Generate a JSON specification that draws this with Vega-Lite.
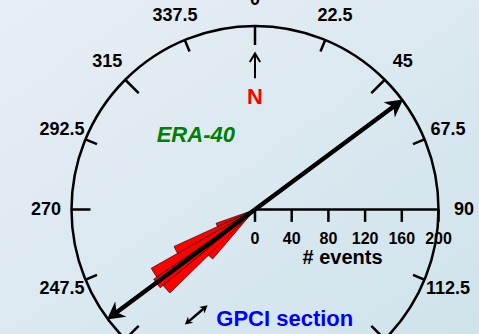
{
  "$schema": "https://vega.github.io/schema/vega-lite/v6.json",
  "width": 479,
  "height": 334,
  "padding": 0,
  "autosize": {"type": "none"},
  "background": "#dbe8f0",
  "config": {
    "view": {"stroke": null, "fill": {"gradient": "linear", "x1": 0, "y1": 0, "x2": 1, "y2": 1, "stops": [{"offset": 0, "color": "#e8eef5"}, {"offset": 1, "color": "#cfe3eb"}]}},
    "text": {"font": "Liberation Sans", "fontWeight": "bold"}
  },
  "layer": [
    {
      "data": {"values": [
        {"a0": 220.5, "a1": 225.5, "n": 71},
        {"a0": 225.5, "a1": 230.5, "n": 130},
        {"a0": 230.5, "a1": 235.5, "n": 134},
        {"a0": 235.5, "a1": 240.5, "n": 130},
        {"a0": 240.5, "a1": 245.5, "n": 97},
        {"a0": 245.5, "a1": 250.5, "n": 45}
      ]},
      "mark": {"type": "arc", "fill": "#ff0000", "stroke": "#000000", "strokeWidth": 0.6},
      "encoding": {
        "x": {"datum": 0, "type": "quantitative", "scale": {"domain": [-277.93, 244.14], "nice": false, "zero": false}, "axis": null},
        "y": {"datum": 0, "type": "quantitative", "scale": {"domain": [-135.69, 228.34], "nice": false, "zero": false}, "axis": null},
        "theta": {"field": "a0", "type": "quantitative", "scale": {"domain": [0, 360], "range": [0, 6.283185307179586]}},
        "theta2": {"field": "a1"},
        "radius": {"field": "n", "type": "quantitative", "scale": {"type": "linear", "domain": [0, 200], "range": [0, 183.5], "zero": true, "nice": false}}
      }
    },
    {
      "data": {"values": [{"ang": 53.4, "x": 152.2, "y": 113.0}, {"ang": 233.4, "x": -152.2, "y": -113.0}]},
      "layer": [
        {
          "mark": {"type": "arc", "filled": false, "stroke": "#000000", "strokeWidth": 4.5},
          "encoding": {
            "x": {"datum": 0, "type": "quantitative", "scale": {"domain": [-277.93, 244.14], "nice": false, "zero": false}, "axis": null},
            "y": {"datum": 0, "type": "quantitative", "scale": {"domain": [-135.69, 228.34], "nice": false, "zero": false}, "axis": null},
            "theta": {"field": "ang", "type": "quantitative", "scale": {"domain": [0, 360], "range": [0, 6.283185307179586]}},
            "theta2": {"field": "ang"},
            "radius": {"datum": 189.6, "type": "quantitative", "scale": {"type": "linear", "domain": [0, 200], "range": [0, 183.5], "zero": true, "nice": false}},
            "radius2": {"datum": 0}
          }
        },
        {
          "mark": {"type": "point", "shape": "M0,-1L0.9,0.65L0,0.15L-0.9,0.65Z", "filled": true, "color": "#000000", "opacity": 1, "size": 440, "strokeWidth": 0},
          "encoding": {
            "x": {"field": "x", "type": "quantitative", "scale": {"domain": [-277.93, 244.14], "nice": false, "zero": false}, "axis": null},
            "y": {"field": "y", "type": "quantitative", "scale": {"domain": [-135.69, 228.34], "nice": false, "zero": false}, "axis": null},
            "angle": {"field": "ang", "type": "quantitative", "scale": null}
          }
        }
      ]
    },
    {
      "data": {"values": [{"c": "circle"}]},
      "mark": {"type": "arc", "filled": false, "stroke": "#000000", "strokeWidth": 2.5},
      "encoding": {
        "x": {"datum": 0, "type": "quantitative", "scale": {"domain": [-277.93, 244.14], "nice": false, "zero": false}, "axis": null},
        "y": {"datum": 0, "type": "quantitative", "scale": {"domain": [-135.69, 228.34], "nice": false, "zero": false}, "axis": null},
        "theta": {"datum": 0, "type": "quantitative", "scale": {"domain": [0, 360], "range": [0, 6.283185307179586]}},
        "theta2": {"datum": 360},
        "radius": {"datum": 200, "type": "quantitative", "scale": {"type": "linear", "domain": [0, 200], "range": [0, 183.5], "zero": true, "nice": false}}
      }
    },
    {
      "data": {"values": [{"b": 0}, {"b": 45}, {"b": 135}, {"b": 180}, {"b": 225}, {"b": 270}, {"b": 315}]},
      "mark": {"type": "arc", "filled": false, "stroke": "#000000", "strokeWidth": 2.5},
      "encoding": {
        "x": {"datum": 0, "type": "quantitative", "scale": {"domain": [-277.93, 244.14], "nice": false, "zero": false}, "axis": null},
        "y": {"datum": 0, "type": "quantitative", "scale": {"domain": [-135.69, 228.34], "nice": false, "zero": false}, "axis": null},
        "theta": {"field": "b", "type": "quantitative", "scale": {"domain": [0, 360], "range": [0, 6.283185307179586]}},
        "theta2": {"field": "b"},
        "radius": {"datum": 200, "type": "quantitative", "scale": {"type": "linear", "domain": [0, 200], "range": [0, 183.5], "zero": true, "nice": false}},
        "radius2": {"datum": 179.3}
      }
    },
    {
      "data": {"values": [{"b": 22.5}, {"b": 67.5}, {"b": 112.5}, {"b": 157.5}, {"b": 202.5}, {"b": 247.5}, {"b": 292.5}, {"b": 337.5}]},
      "mark": {"type": "arc", "filled": false, "stroke": "#000000", "strokeWidth": 2.5},
      "encoding": {
        "x": {"datum": 0, "type": "quantitative", "scale": {"domain": [-277.93, 244.14], "nice": false, "zero": false}, "axis": null},
        "y": {"datum": 0, "type": "quantitative", "scale": {"domain": [-135.69, 228.34], "nice": false, "zero": false}, "axis": null},
        "theta": {"field": "b", "type": "quantitative", "scale": {"domain": [0, 360], "range": [0, 6.283185307179586]}},
        "theta2": {"field": "b"},
        "radius": {"datum": 200, "type": "quantitative", "scale": {"type": "linear", "domain": [0, 200], "range": [0, 183.5], "zero": true, "nice": false}},
        "radius2": {"datum": 186.4}
      }
    },
    {
      "data": {"values": [
        {"b": 0, "t": "0"}, {"b": 22.5, "t": "22.5"}, {"b": 45, "t": "45"}, {"b": 67.5, "t": "67.5"},
        {"b": 90, "t": "90"}, {"b": 112.5, "t": "112.5"}, {"b": 247.5, "t": "247.5"},
        {"b": 270, "t": "270"}, {"b": 292.5, "t": "292.5"}, {"b": 315, "t": "315"}, {"b": 337.5, "t": "337.5"}
      ]},
      "mark": {"type": "text", "fontSize": 18, "align": "center", "baseline": "middle", "color": "#000000"},
      "encoding": {
        "x": {"datum": 0, "type": "quantitative", "scale": {"domain": [-277.93, 244.14], "nice": false, "zero": false}, "axis": null},
        "y": {"datum": 0, "type": "quantitative", "scale": {"domain": [-135.69, 228.34], "nice": false, "zero": false}, "axis": null},
        "theta": {"field": "b", "type": "quantitative", "scale": {"domain": [0, 360], "range": [0, 6.283185307179586]}},
        "radius": {"datum": 227.8, "type": "quantitative", "scale": {"type": "linear", "domain": [0, 200], "range": [0, 183.5], "zero": true, "nice": false}},
        "text": {"field": "t"}
      }
    },
    {
      "data": {"values": [{"v": 0}, {"v": 40}, {"v": 80}, {"v": 120}, {"v": 160}, {"v": 200}]},
      "layer": [
        {
          "mark": {"type": "rule", "color": "#000000", "strokeWidth": 2.5},
          "encoding": {
            "x": {"field": "v", "type": "quantitative", "scale": {"domain": [-277.93, 244.14], "nice": false, "zero": false}, "axis": null},
            "y": {"datum": 0, "type": "quantitative", "scale": {"domain": [-135.69, 228.34], "nice": false, "zero": false}, "axis": null},
            "y2": {"datum": -13.5}
          }
        },
        {
          "mark": {"type": "text", "fontSize": 16, "align": "center", "baseline": "alphabetic", "color": "#000000"},
          "encoding": {
            "x": {"field": "v", "type": "quantitative", "scale": {"domain": [-277.93, 244.14], "nice": false, "zero": false}, "axis": null},
            "y": {"datum": -37.06, "type": "quantitative", "scale": {"domain": [-135.69, 228.34], "nice": false, "zero": false}, "axis": null},
            "text": {"field": "v", "type": "quantitative"}
          }
        }
      ]
    },
    {
      "data": {"values": [{"x0": 0, "x1": 200}]},
      "mark": {"type": "rule", "color": "#000000", "strokeWidth": 2.7},
      "encoding": {
        "x": {"field": "x0", "type": "quantitative", "scale": {"domain": [-277.93, 244.14], "nice": false, "zero": false}, "axis": null},
        "x2": {"field": "x1"},
        "y": {"datum": 0, "type": "quantitative", "scale": {"domain": [-135.69, 228.34], "nice": false, "zero": false}, "axis": null}
      }
    },
    {
      "data": {"values": [{"x": 0, "y": 143.0, "y2": 170.0}]},
      "layer": [
        {
          "mark": {"type": "rule", "color": "#000000", "strokeWidth": 2},
          "encoding": {
            "x": {"field": "x", "type": "quantitative", "scale": {"domain": [-277.93, 244.14], "nice": false, "zero": false}, "axis": null},
            "y": {"field": "y", "type": "quantitative", "scale": {"domain": [-135.69, 228.34], "nice": false, "zero": false}, "axis": null},
            "y2": {"field": "y2"}
          }
        },
        {
          "mark": {"type": "point", "shape": "M-0.55,0.9L0,0L0.55,0.9", "filled": false, "stroke": "#000000", "strokeWidth": 2, "opacity": 1, "size": 354},
          "encoding": {
            "x": {"field": "x", "type": "quantitative", "scale": {"domain": [-277.93, 244.14], "nice": false, "zero": false}, "axis": null},
            "y": {"field": "y2", "type": "quantitative", "scale": {"domain": [-135.69, 228.34], "nice": false, "zero": false}, "axis": null}
          }
        }
      ]
    },
    {
      "data": {"values": [{"x": -72.6, "y": -122.2, "x2": -55.5, "y2": -107.7}]},
      "mark": {"type": "rule", "color": "#000000", "strokeWidth": 2.5},
      "encoding": {
        "x": {"field": "x", "type": "quantitative", "scale": {"domain": [-277.93, 244.14], "nice": false, "zero": false}, "axis": null},
        "y": {"field": "y", "type": "quantitative", "scale": {"domain": [-135.69, 228.34], "nice": false, "zero": false}, "axis": null},
        "x2": {"field": "x2"},
        "y2": {"field": "y2"}
      }
    },
    {
      "data": {"values": [{"x": -55.5, "y": -107.7, "ang": 49.8}, {"x": -72.6, "y": -122.2, "ang": 229.8}]},
      "mark": {"type": "point", "shape": "M0,-1L0.9,0.65L0,0.15L-0.9,0.65Z", "filled": true, "color": "#000000", "opacity": 1, "size": 85, "strokeWidth": 0},
      "encoding": {
        "x": {"field": "x", "type": "quantitative", "scale": {"domain": [-277.93, 244.14], "nice": false, "zero": false}, "axis": null},
        "y": {"field": "y", "type": "quantitative", "scale": {"domain": [-135.69, 228.34], "nice": false, "zero": false}, "axis": null},
        "angle": {"field": "ang", "type": "quantitative", "scale": null}
      }
    },
    {
      "data": {"values": [
        {"t": "# events", "x": 95.4, "y": -59.4, "c": "#000000", "f": 20},
        {"t": "N", "x": 0, "y": 115.0, "c": "#ff0000", "f": 22},
        {"t": "GPCI section", "x": 32.4, "y": -127.5, "c": "#0000ff", "f": 22}
      ]},
      "mark": {"type": "text", "align": "center", "baseline": "alphabetic"},
      "encoding": {
        "x": {"field": "x", "type": "quantitative", "scale": {"domain": [-277.93, 244.14], "nice": false, "zero": false}, "axis": null},
        "y": {"field": "y", "type": "quantitative", "scale": {"domain": [-135.69, 228.34], "nice": false, "zero": false}, "axis": null},
        "text": {"field": "t"},
        "color": {"field": "c", "type": "nominal", "scale": null},
        "size": {"field": "f", "type": "quantitative", "scale": null}
      }
    },
    {
      "data": {"values": [{"t": "ERA-40", "x": -64.5, "y": 73.9}]},
      "mark": {"type": "text", "align": "center", "baseline": "alphabetic", "fontStyle": "italic", "fontSize": 22, "color": "#008000"},
      "encoding": {
        "x": {"field": "x", "type": "quantitative", "scale": {"domain": [-277.93, 244.14], "nice": false, "zero": false}, "axis": null},
        "y": {"field": "y", "type": "quantitative", "scale": {"domain": [-135.69, 228.34], "nice": false, "zero": false}, "axis": null},
        "text": {"field": "t"}
      }
    }
  ]
}
